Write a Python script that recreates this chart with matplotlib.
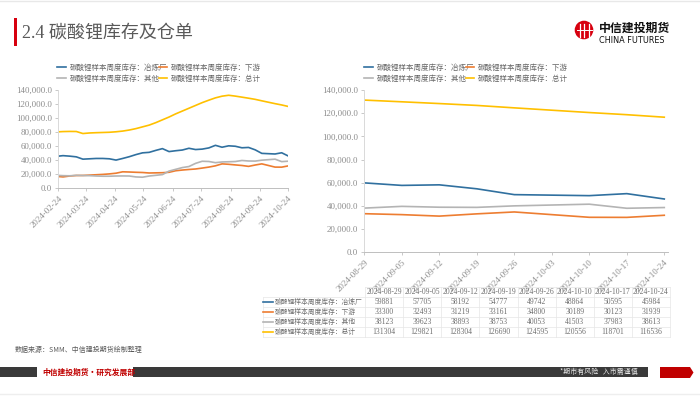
import numpy as np
import pandas as pd
import matplotlib
matplotlib.use('Agg')
import matplotlib.pyplot as plt
import matplotlib.dates as mdates
from matplotlib.patches import Rectangle, Polygon, Circle
from matplotlib.ticker import FuncFormatter

plt.rcParams['font.family'] = ['Liberation Serif', 'Noto Sans CJK SC']

# weekly data, the 10-03 holiday week is missing
dates = pd.date_range('2024-02-22', '2024-10-24', freq='7D')
dates = dates[dates != pd.Timestamp('2024-10-03')]

tbl_dates = ['2024-08-29', '2024-09-05', '2024-09-12', '2024-09-19',
             '2024-09-26', '2024-10-10', '2024-10-17', '2024-10-24']
smelter_recent = [59881, 57705, 58192, 54777, 49742, 48864, 50595, 45984]
down_recent = [33300, 32493, 31219, 33161, 34800, 30189, 30123, 31939]
other_recent = [38123, 39623, 38893, 38753, 40053, 41503, 37983, 38613]
total_recent = [131304, 129821, 128304, 126690, 124595, 120556, 118701, 116536]

# 2024-02-22 .. 2024-08-22
smelter_early = [45500, 46500, 45800, 44800, 41500, 42000, 42500, 42500, 42000,
                 40200, 42500, 45000, 48000, 50500, 51200, 54000, 56500, 52300,
                 53500, 54500, 57000, 55200, 55800, 57500, 61200, 58500, 60500]
down_early = [17000, 16200, 17500, 18200, 18300, 18800, 19300, 19800, 20500,
              21500, 23500, 23200, 22800, 22500, 21800, 22000, 22200, 22800,
              25000, 26000, 26800, 27500, 28800, 30200, 32000, 34800, 34200]
other_early = [18500, 18000, 17800, 18500, 18200, 18000, 17500, 17200, 17200,
               17500, 17600, 17500, 16200, 15800, 17500, 18500, 19500, 24500,
               27000, 29500, 31000, 35500, 38500, 38200, 36500, 37500, 37800]
total_early = [80300, 80800, 81000, 80900, 78000, 78800, 79200, 79500, 79800,
               80500, 81500, 83000, 85000, 87500, 90000, 93500, 97500, 101500,
               106000, 110000, 114000, 118000, 122000, 125500, 128800, 131200, 132500]

names = ['碳酸锂样本周度库存：冶炼厂', '碳酸锂样本周度库存：下游',
         '碳酸锂样本周度库存：其他', '碳酸锂样本周度库存：总计']
colors = ['#30709f', '#ed7d31', '#b4b4b4', '#ffc000']

full = [smelter_early + smelter_recent, down_early + down_recent,
        other_early + other_recent, total_early + total_recent]
recent = [smelter_recent, down_recent, other_recent, total_recent]

W, H = 700, 396
fig = plt.figure(figsize=(7, 3.96), dpi=100)
fig.patch.set_facecolor('white')


def px_axes(x0, y0, x1, y1):
    return fig.add_axes([x0 / W, 1 - y1 / H, (x1 - x0) / W, (y1 - y0) / H])


def style(ax):
    for s in ['top', 'right']:
        ax.spines[s].set_visible(False)
    ax.spines['left'].set_color('#d9d9d9')
    ax.spines['bottom'].set_color('#bfbfbf')
    ax.spines['left'].set_linewidth(0.7)
    ax.spines['bottom'].set_linewidth(0.7)
    ax.set_ylim(0, 140000)
    ax.set_yticks(np.arange(0, 140001, 20000))
    ax.yaxis.set_major_formatter(FuncFormatter(lambda v, p: f'{v:,.1f}'))
    ax.xaxis.set_major_formatter(mdates.DateFormatter('%Y-%m-%d'))
    ax.tick_params(colors='#bfbfbf', labelcolor='#8c8c8c', labelsize=6.4,
                   length=2.5, width=0.6, pad=2)
    for lb in ax.get_xticklabels():
        lb.set_rotation(45)
        lb.set_ha('right')
        lb.set_va('top')
        lb.set_rotation_mode('anchor')


def legend(ax, x0):
    hs = ax.get_lines()
    order = [0, 2, 1, 3]
    ax.legend([hs[i] for i in order], [names[i] for i in order], ncol=2,
              loc='upper left', bbox_to_anchor=(x0 / W, 1 - 64 / H),
              bbox_transform=fig.transFigure, frameon=False, borderpad=0,
              borderaxespad=0, handlelength=1.15, handletextpad=0.5,
              columnspacing=-1.1, labelspacing=0.35,
              prop={'family': 'Noto Sans CJK SC', 'size': 5.4},
              labelcolor='#666666')


# left chart
ax1 = px_axes(58.3, 90, 288.3, 188.3)
for vals, c in zip(full, colors):
    ax1.plot(dates, vals, color=c, lw=1.2)
ax1.set_xticks([pd.Timestamp(f'2024-{m:02d}-24') for m in range(2, 11)])
ax1.set_xlim(pd.Timestamp('2024-02-24'), pd.Timestamp('2024-10-24'))
style(ax1)
legend(ax1, 57)

# right chart
ax2 = px_axes(364.3, 90, 668.3, 252.3)
for vals, c in zip(recent, colors):
    ax2.plot(pd.to_datetime(tbl_dates), vals, color=c, lw=1.2)
ax2.set_xticks(pd.date_range('2024-08-29', '2024-10-24', freq='7D'))
ax2.set_xlim(pd.Timestamp('2024-08-29'), pd.Timestamp('2024-10-24') + pd.Timedelta(hours=18))
style(ax2)
legend(ax2, 364)

# decoration layer in pixel coordinates
deco = fig.add_axes([0, 0, 1, 1])
deco.set_xlim(0, W)
deco.set_ylim(H, 0)
deco.axis('off')
deco.patch.set_visible(False)

deco.plot([0, W], [0.8, 0.8], color='#e8e8e8', lw=1)
deco.plot([0, W], [393.5, 393.5], color='#eeeeee', lw=1)
deco.add_patch(Rectangle((14.3, 18), 2.8, 28, color='#d7000f', lw=0))
deco.text(22, 33, '2.4 碳酸锂库存及仓单', fontsize=13, color='#595959',
          va='center', ha='left', weight='medium',
          family=['Liberation Serif', 'Noto Sans CJK SC'])

# logo
deco.add_patch(Circle((584, 30), 9.3, color='#d7000f', lw=0))
for xx in [579.5, 584, 588.5]:
    deco.plot([xx, xx], [24, 37], color='white', lw=0.9)
deco.plot([576.5, 591.5], [30, 30], color='white', lw=0.7)
deco.text(599, 28.5, '中信建投期货', fontsize=8.6, weight='bold', color='#111111',
          va='center', ha='left', family='Noto Sans CJK SC')
deco.text(599, 40.5, 'CHINA FUTURES', fontsize=5.9, color='#111111',
          va='center', ha='left', family='DejaVu Sans')

# table
top, rh = 286.5, 10
lab_x0, lab_x1, tbl_x1 = 262.7, 365, 670
cw = (tbl_x1 - lab_x1) / len(tbl_dates)
gc = '#e6e6e6'
deco.plot([lab_x1, tbl_x1], [top, top], color=gc, lw=0.5)
for r in range(1, 6):
    deco.plot([lab_x0, tbl_x1], [top + r * rh] * 2, color=gc, lw=0.5)
deco.plot([lab_x0, lab_x0], [top + rh, top + 5 * rh], color=gc, lw=0.5)
for i in range(len(tbl_dates) + 1):
    xx = lab_x1 + i * cw
    deco.plot([xx, xx], [top, top + 5 * rh], color=gc, lw=0.5)
for i, d in enumerate(tbl_dates):
    deco.text(lab_x1 + (i + 0.5) * cw, top + rh / 2, d, fontsize=5.5,
              color='#6e6e6e', ha='center', va='center')
for r, (nm, c, vals) in enumerate(zip(names, colors, recent)):
    yy = top + (r + 1.5) * rh
    deco.plot([263.3, 273.3], [yy, yy], color=c, lw=1.2)
    deco.text(274.3, yy, nm, fontsize=4.9, color='#6e6e6e', ha='left',
              va='center', family='Noto Sans CJK SC')
    for i, v in enumerate(vals):
        deco.text(lab_x1 + (i + 0.5) * cw, yy, str(v), fontsize=5.5,
                  color='#6e6e6e', ha='center', va='center')

deco.text(15, 350, '数据来源：SMM、中信建投期货绘制整理', fontsize=5, color='#595959',
          ha='left', va='center', style='italic', family='Noto Sans CJK SC')

# footer band
dark = '#3a3a3a'
deco.add_patch(Rectangle((0, 366.7), 37.3, 10.6, color=dark, lw=0))
deco.add_patch(Rectangle((132.7, 366.7), 515.5, 10.6, color=dark, lw=0))
deco.text(42, 372, '中信建投期货·研究发展部', fontsize=5.6, weight='bold',
          color='#c00000', ha='left', va='center', family='Noto Sans CJK SC')
deco.text(638, 372, '*期市有风险   入市需谨慎', fontsize=5, color='#e6e6e6',
          ha='right', va='center', family='Noto Sans CJK SC')
deco.add_patch(Polygon([(660, 367), (690, 367), (693.5, 372.5), (690, 378), (660, 378)],
                       closed=True, color='#c00000', lw=0))

fig.savefig('out.png', dpi=100)
